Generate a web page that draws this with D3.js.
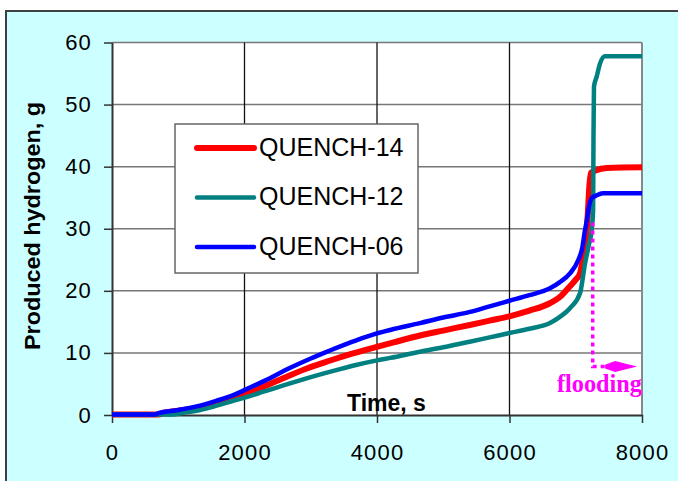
<!DOCTYPE html>
<html>
<head>
<meta charset="utf-8">
<script src="https://cdn.jsdelivr.net/npm/d3@7"></script>
<style>
  body { margin: 0; background: #fff; }
  svg { display: block; }
  text { font-family: Arial, "Liberation Sans", sans-serif; }
</style>
</head>
<body>
<div id="chart"></div>
<script>
// axis ticks
var timeTicks = [0, 2000, 4000, 6000, 8000];
var h2Ticks = [0, 10, 20, 30, 40, 50, 60];

// QUENCH-14
var t14 = [0, 700, 800, 1000, 1330, 1580, 1830, 2000, 2300, 2600, 2940, 3270, 3600, 3900, 4250, 4650, 5000, 5400, 5700, 6000, 6300, 6610, 6760, 6910, 7000, 7064, 7110, 7140, 7165, 7185, 7200, 7230, 7300, 7470, 8000];
var q14 = [0.1, 0.1, 0.4, 0.7, 1.2, 1.8, 2.6, 3.3, 4.6, 6.0, 7.5, 8.7, 9.8, 10.7, 11.7, 12.8, 13.6, 14.5, 15.2, 15.9, 16.8, 18.0, 19.0, 20.7, 21.8, 22.8, 25.5, 27.5, 29.8, 33.0, 36.0, 39.0, 39.4, 39.8, 39.9];

// QUENCH-12
var t12 = [0, 900, 1100, 1330, 1580, 1830, 2000, 2300, 2600, 2874, 3200, 3442, 3700, 4000, 4200, 4650, 5000, 5400, 5700, 6000, 6300, 6611, 6760, 6913, 7064, 7140, 7200, 7240, 7262, 7268, 7275, 7316, 7366, 7442, 8000];
var q12 = [0.1, 0.1, 0.4, 0.8, 1.5, 2.3, 2.8, 3.8, 4.8, 5.7, 6.7, 7.4, 8.1, 8.8, 9.2, 10.2, 10.9, 11.8, 12.5, 13.2, 13.9, 14.8, 15.8, 17.2, 19.6, 24.4, 27.5, 29.8, 33.0, 45.0, 52.9, 54.5, 56.6, 57.8, 57.8];

// QUENCH-06
var t06 = [0, 650, 700, 1000, 1330, 1580, 1830, 2000, 2300, 2690, 3000, 3270, 3600, 3894, 4200, 4649, 5000, 5404, 5700, 6000, 6300, 6611, 6760, 6913, 7040, 7100, 7140, 7170, 7200, 7245, 7300, 7410, 8000];
var q06 = [0.1, 0.1, 0.3, 0.8, 1.5, 2.3, 3.2, 4.0, 5.5, 7.6, 9.1, 10.3, 11.7, 12.8, 13.7, 14.8, 15.7, 16.6, 17.5, 18.4, 19.3, 20.4, 21.4, 22.8, 25.0, 27.0, 29.8, 31.5, 33.6, 35.0, 35.3, 35.7, 35.7];

// flooding start time and arrow
var floodTime = 7256;
var floodFrom = 31;
var floodLevel = 7.8;
var floodArrowEnd = 7925;

var series = [
    { name: "QUENCH-14", t: t14, v: q14, color: "#ff0000", width: 6 },
    { name: "QUENCH-12", t: t12, v: q12, color: "#008080", width: 4.5 },
    { name: "QUENCH-06", t: t06, v: q06, color: "#0000ff", width: 4.5 }
];

var width = 678, height = 481;

var svg = d3.select("#chart").append("svg")
    .attr("width", width)
    .attr("height", height);

// outer frame
svg.append("rect")
    .attr("x", 6).attr("y", 11)
    .attr("width", 720).attr("height", 520)
    .attr("fill", "#ccffff")
    .attr("stroke", "#404040")
    .attr("stroke-width", 2);

var x = d3.scaleLinear().domain([0, 8000]).range([112, 642]);
var y = d3.scaleLinear().domain([0, 60]).range([415, 42.5]);

// plot area
svg.append("rect")
    .attr("x", x(0)).attr("y", y(60))
    .attr("width", x(8000) - x(0)).attr("height", y(0) - y(60))
    .attr("fill", "#fff");

// grid
svg.append("g").selectAll("line")
    .data(h2Ticks.slice(1))
    .enter().append("line")
    .attr("x1", x(0)).attr("x2", x(8000))
    .attr("y1", d => y(d)).attr("y2", d => y(d))
    .attr("stroke", "#777")
    .attr("stroke-width", 1.5);

svg.append("g").selectAll("line")
    .data(timeTicks.slice(1, -1))
    .enter().append("line")
    .attr("x1", d => x(d)).attr("x2", d => x(d))
    .attr("y1", y(0)).attr("y2", y(60))
    .attr("stroke", "#111")
    .attr("stroke-width", 1.3);

svg.append("line")
    .attr("x1", x(8000)).attr("x2", x(8000))
    .attr("y1", y(0)).attr("y2", y(60))
    .attr("stroke", "#888")
    .attr("stroke-width", 2);

// axes
var yAxis = svg.append("g")
    .attr("transform", "translate(" + x(0) + ",0)")
    .call(d3.axisLeft(y).tickValues(h2Ticks).tickSize(8).tickPadding(12).tickSizeOuter(0));

var xAxis = svg.append("g")
    .attr("transform", "translate(0," + y(0) + ")")
    .call(d3.axisBottom(x).tickValues(timeTicks).tickFormat(d3.format("d"))
        .tickSize(8).tickPadding(21).tickSizeOuter(0));

[yAxis, xAxis].forEach(function (a) {
    a.select(".domain").attr("stroke", "#333").attr("stroke-width", 2);
    a.selectAll(".tick line").attr("stroke", "#333").attr("stroke-width", 1.5);
    a.selectAll(".tick text")
        .attr("fill", "#000")
        .style("font-size", "22px")
        .style("letter-spacing", "1.2px")
        .style("font-family", "Arial, 'Liberation Sans', sans-serif");
});

// axis titles
svg.append("text")
    .attr("transform", "translate(40,226) rotate(-90)")
    .attr("text-anchor", "middle")
    .attr("textLength", 248)
    .attr("lengthAdjust", "spacingAndGlyphs")
    .style("font-size", "22px")
    .style("font-weight", "bold")
    .text("Produced hydrogen, g");

svg.append("text")
    .attr("x", 347).attr("y", 411)
    .style("font-size", "23px")
    .style("font-weight", "bold")
    .text("Time, s");

// curves
var line = d3.line()
    .curve(d3.curveMonotoneX)
    .x(d => x(d[0]))
    .y(d => y(d[1]));

series.forEach(function (s) {
    svg.append("path")
        .datum(d3.zip(s.t, s.v))
        .attr("d", line)
        .attr("fill", "none")
        .attr("stroke", s.color)
        .attr("stroke-width", s.width)
        .attr("stroke-linejoin", "round");
});

// flooding marker
var flood = svg.append("g");
var arrowBase = x(floodArrowEnd) - 32;
flood.append("path")
    .attr("d", "M" + x(floodTime) + "," + y(floodFrom) +
        "V" + y(floodLevel) + "H" + arrowBase)
    .attr("fill", "none")
    .attr("stroke", "#ff00ff")
    .attr("stroke-width", 3.5)
    .attr("stroke-dasharray", "4,4");

flood.append("path")
    .attr("d", "M" + arrowBase + "," + (y(floodLevel) - 1.8) +
        "L" + (arrowBase + 10) + "," + (y(floodLevel) - 5.5) +
        "L" + x(floodArrowEnd) + "," + y(floodLevel) +
        "L" + (arrowBase + 10) + "," + (y(floodLevel) + 5.5) +
        "L" + arrowBase + "," + (y(floodLevel) + 1.8) + "Z")
    .attr("fill", "#ff00ff");

flood.append("text")
    .attr("x", 557).attr("y", 392)
    .attr("textLength", 85)
    .attr("lengthAdjust", "spacingAndGlyphs")
    .style("font-family", "'Liberation Serif', 'Times New Roman', serif")
    .style("font-size", "25px")
    .style("font-weight", "bold")
    .attr("fill", "#ff00ff")
    .text("flooding");

// legend
var legend = svg.append("g");
legend.append("rect")
    .attr("x", 175).attr("y", 124)
    .attr("width", 243).attr("height", 149)
    .attr("fill", "#fff")
    .attr("stroke", "#666")
    .attr("stroke-width", 1.5);

var legendG = legend.selectAll(".legend")
    .data(series)
    .enter().append("g")
    .attr("class", "legend")
    .attr("transform", function (d, i) {
        return "translate(0," + (148 + i * 49.5) + ")";
    });

legendG.append("line")
    .attr("x1", 197).attr("x2", 254)
    .attr("stroke", d => d.color)
    .attr("stroke-width", d => d.width)
    .attr("stroke-linecap", "round");

legendG.append("text")
    .attr("x", 259)
    .attr("dy", "0.3em")
    .style("font-size", "25px")
    .text(d => d.name);
</script>
</body>
</html>
